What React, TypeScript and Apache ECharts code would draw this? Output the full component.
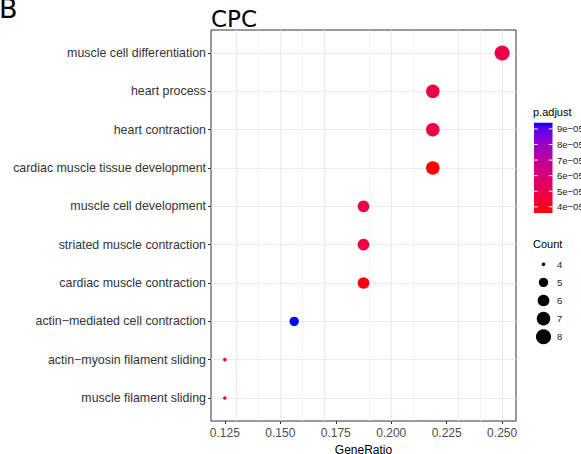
import React, { useEffect, useRef } from "react";
import * as echarts from "echarts";

// GO enrichment terms (top to bottom), with their gene ratio, adjusted p-value and gene count
const TERMS = [
  "muscle cell differentiation",
  "heart process",
  "heart contraction",
  "cardiac muscle tissue development",
  "muscle cell development",
  "striated muscle contraction",
  "cardiac muscle contraction",
  "actin\u2212mediated cell contraction",
  "actin\u2212myosin filament sliding",
  "muscle filament sliding",
];
const GENE_RATIO = [0.25, 0.21875, 0.21875, 0.21875, 0.1875, 0.1875, 0.1875, 0.15625, 0.125, 0.125];
const P_ADJUST = [4.9e-5, 4.8e-5, 4.8e-5, 3.6e-5, 4.9e-5, 4.8e-5, 3.7e-5, 9.4e-5, 4.9e-5, 4.9e-5];
const COUNTS = [8, 7, 7, 7, 6, 6, 6, 5, 4, 4];

const X_TICKS = [0.125, 0.15, 0.175, 0.2, 0.225, 0.25];
const X_MINOR = [0.1375, 0.1625, 0.1875, 0.2125, 0.2375];
const P_BREAKS = [4e-5, 5e-5, 6e-5, 7e-5, 8e-5, 9e-5];
const COUNT_BREAKS = [4, 5, 6, 7, 8];

const SANS = "Liberation Sans, Arial, Helvetica, sans-serif";

// ---- colour: red -> blue gradient interpolated in CIE Lab ----
function toLin(c: number) {
  c /= 255;
  return c <= 0.04045 ? c / 12.92 : Math.pow((c + 0.055) / 1.055, 2.4);
}
function fromLin(c: number) {
  const v = c <= 0.0031308 ? 12.92 * c : 1.055 * Math.pow(c, 1 / 2.4) - 0.055;
  return Math.max(0, Math.min(255, Math.round(v * 255)));
}
const D = 6 / 29;
const fLab = (t: number) => (t > D * D * D ? Math.cbrt(t) : t / (3 * D * D) + 4 / 29);
const fInv = (t: number) => (t > D ? t * t * t : 3 * D * D * (t - 4 / 29));
function rgbToLab([r, g, b]: number[]) {
  const R = toLin(r), G = toLin(g), B = toLin(b);
  const X = (0.4124 * R + 0.3576 * G + 0.1805 * B) / 0.95047;
  const Y = 0.2126 * R + 0.7152 * G + 0.0722 * B;
  const Z = (0.0193 * R + 0.1192 * G + 0.9505 * B) / 1.08883;
  return [116 * fLab(Y) - 16, 500 * (fLab(X) - fLab(Y)), 200 * (fLab(Y) - fLab(Z))];
}
function labToHex([L, a, b]: number[]) {
  const fy = (L + 16) / 116;
  const X = 0.95047 * fInv(fy + a / 500);
  const Y = fInv(fy);
  const Z = 1.08883 * fInv(fy - b / 200);
  const R = 3.2406 * X - 1.5372 * Y - 0.4986 * Z;
  const G = -0.9689 * X + 1.8758 * Y + 0.0415 * Z;
  const B = 0.0557 * X - 0.204 * Y + 1.057 * Z;
  return "#" + [R, G, B].map((c) => fromLin(c).toString(16).padStart(2, "0")).join("");
}
const LOW = rgbToLab([255, 0, 0]);
const HIGH = rgbToLab([0, 0, 255]);
const GRADIENT: string[] = Array.from({ length: 21 }, (_, i) => {
  const t = i / 20;
  return labToHex(LOW.map((v, k) => v + (HIGH[k] - v) * t));
});

// ---- size: area scale, range 1..6, mapped to pixel diameters ----
const C_MIN = Math.min(...COUNTS);
const C_MAX = Math.max(...COUNTS);
function diameter(count: number) {
  const s = 1 + 5 * Math.sqrt((count - C_MIN) / (C_MAX - C_MIN));
  return 2.3 * s + 1.3;
}

const P_MIN = Math.min(...P_ADJUST);
const P_MAX = Math.max(...P_ADJUST);

function sci(v: number) {
  const e = Math.floor(Math.log10(v) + 1e-9);
  const m = Math.round(v / Math.pow(10, e));
  const sign = e < 0 ? "\u2212" : "+";
  return `${m}e${sign}${String(Math.abs(e)).padStart(2, "0")}`;
}

// legend layout
const BAR_X = 534;
const BAR_Y = 122.7;
const BAR_W = 18.5;
const BAR_H = 90.3;
const LEG_TEXT_X = 557;
const SIZE_X = 543.5;
const SIZE_Y0 = 264.3;
const SIZE_STEP = 18.1;

export default function App() {
  const ref = useRef<HTMLDivElement>(null);

  useEffect(() => {
    if (!ref.current) return;
    const chart = echarts.init(ref.current, null, { renderer: "svg" });

    const data = TERMS.map((_, i) => [GENE_RATIO[i], i + 1, P_ADJUST[i], COUNTS[i]]);

    const gridLines = [
      ...X_MINOR.map((v) => ({ xAxis: v, lineStyle: { color: "#f1f1f1", width: 0.8, type: "solid" } })),
      ...X_TICKS.map((v) => ({ xAxis: v, lineStyle: { color: "#ebebeb", width: 1.1, type: "solid" } })),
      ...TERMS.map((_, i) => ({ yAxis: i + 1, lineStyle: { color: "#ebebeb", width: 1.1, type: "solid" } })),
    ];

    const pY = (v: number) => BAR_Y + BAR_H - ((v - P_MIN) / (P_MAX - P_MIN)) * BAR_H;

    const graphic: any[] = [
      {
        type: "text",
        left: -1,
        top: -5,
        style: { text: "B", fontSize: 27, fontFamily: "DejaVu Sans", fill: "#000" },
      },
      {
        type: "text",
        left: 211,
        top: 7,
        style: { text: "CPC", fontSize: 23, fontFamily: "DejaVu Sans", fill: "#000" },
      },
      {
        type: "text",
        x: 533,
        y: 112,
        style: { text: "p.adjust", fontSize: 11, fontFamily: SANS, fill: "#000", verticalAlign: "middle" },
      },
      {
        type: "rect",
        shape: { x: BAR_X, y: BAR_Y, width: BAR_W, height: BAR_H },
        style: {
          fill: {
            type: "linear",
            x: 0,
            y: 1,
            x2: 0,
            y2: 0,
            colorStops: GRADIENT.map((c, i) => ({ offset: i / (GRADIENT.length - 1), color: c })),
          },
        },
      },
      ...P_BREAKS.flatMap((v) => {
        const y = pY(v);
        return [
          { type: "line", shape: { x1: BAR_X, y1: y, x2: BAR_X + BAR_W / 5, y2: y }, style: { stroke: "#fff", lineWidth: 1 } },
          { type: "line", shape: { x1: BAR_X + BAR_W * 0.8, y1: y, x2: BAR_X + BAR_W, y2: y }, style: { stroke: "#fff", lineWidth: 1 } },
          {
            type: "text",
            x: LEG_TEXT_X,
            y,
            style: { text: sci(v), fontSize: 9.5, fontFamily: SANS, fill: "#1a1a1a", verticalAlign: "middle" },
          },
        ];
      }),
      {
        type: "text",
        x: 533,
        y: 244,
        style: { text: "Count", fontSize: 11, fontFamily: SANS, fill: "#000", verticalAlign: "middle" },
      },
      ...COUNT_BREAKS.flatMap((c, i) => {
        const y = SIZE_Y0 + i * SIZE_STEP;
        return [
          { type: "circle", shape: { cx: SIZE_X, cy: y, r: diameter(c) / 2 }, style: { fill: "#000" } },
          {
            type: "text",
            x: LEG_TEXT_X,
            y,
            style: { text: String(c), fontSize: 9.5, fontFamily: SANS, fill: "#1a1a1a", verticalAlign: "middle" },
          },
        ];
      }),
    ];

    chart.setOption({
      animation: false,
      backgroundColor: "#fff",
      textStyle: { fontFamily: SANS },
      grid: {
        left: 211,
        top: 30,
        width: 305,
        height: 391,
        outerBoundsMode: "none",
        containLabel: false,
        show: true,
        backgroundColor: "#fff",
        borderColor: "#333",
        borderWidth: 1,
      },
      xAxis: {
        type: "value",
        min: 0.11875,
        max: 0.25625,
        name: "GeneRatio",
        nameLocation: "middle",
        nameGap: 19,
        nameTextStyle: { fontSize: 12, color: "#000", fontFamily: SANS },
        axisLine: { show: false },
        splitLine: { show: false },
        axisTick: { show: true, length: 3, customValues: X_TICKS, lineStyle: { color: "#333", width: 1 } },
        axisLabel: {
          customValues: X_TICKS,
          margin: 6,
          fontSize: 12,
          color: "#4d4d4d",
          fontFamily: SANS,
          formatter: (v: number) => v.toFixed(3),
        },
      },
      yAxis: {
        type: "value",
        min: 0.4,
        max: 10.6,
        inverse: true,
        axisLine: { show: false },
        splitLine: { show: false },
        axisTick: { show: true, length: 3, customValues: TERMS.map((_, i) => i + 1), lineStyle: { color: "#333", width: 1 } },
        axisLabel: {
          customValues: TERMS.map((_, i) => i + 1),
          margin: 5,
          fontSize: 12.4,
          color: "#333",
          fontFamily: SANS,
          formatter: (v: number) => TERMS[Math.round(v) - 1] ?? "",
        },
      },
      visualMap: {
        type: "continuous",
        show: false,
        min: P_MIN,
        max: P_MAX,
        dimension: 2,
        seriesIndex: 1,
        inRange: { color: GRADIENT },
      },
      series: [
        {
          type: "line",
          data: data.map((d) => [d[0], d[1]]),
          showSymbol: false,
          lineStyle: { opacity: 0 },
          silent: true,
          z: 1,
          markLine: {
            z: 1,
            silent: true,
            symbol: ["none", "none"],
            label: { show: false },
            data: gridLines,
          },
        },
        {
          type: "scatter",
          data,
          z: 3,
          symbolSize: (v: number[]) => diameter(v[3]),
          itemStyle: { opacity: 1 },
        },
      ],
      graphic,
    });

    return () => chart.dispose();
  }, []);

  return <div ref={ref} style={{ position: "absolute", left: 0, top: 0, width: 581, height: 454 }} />;
}
